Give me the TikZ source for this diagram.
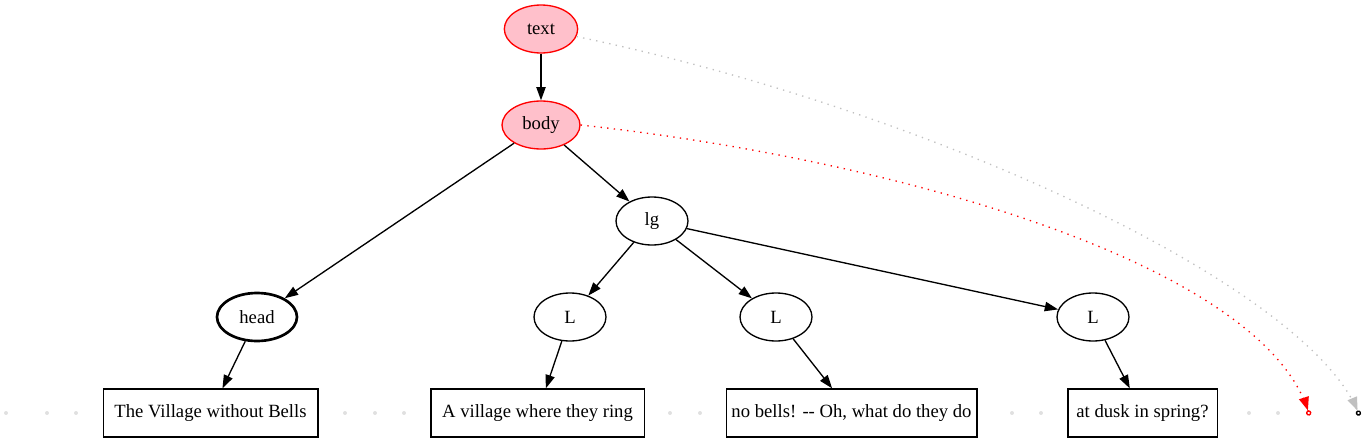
\documentclass[tikz,border=0pt]{standalone}
\usepackage{fontspec}
\setmainfont{Liberation Serif}
\usetikzlibrary{arrows.meta,shapes.geometric}
\definecolor{gvpink}{RGB}{255,192,203}
\definecolor{gvgray}{RGB}{192,192,192}
\definecolor{dotgray}{RGB}{224,224,224}
\begin{document}
\begin{tikzpicture}[x=0.75pt,y=-0.75pt,
  every node/.style={font=\fontsize{14pt}{16pt}\selectfont, inner sep=0pt},
  ell/.style={draw, ellipse, line width=1pt, minimum width=54pt, minimum height=36pt},
  hl/.style={ell, draw=red, fill=gvpink},
  box/.style={draw, rectangle, line width=1pt, minimum height=36pt},
  dotpt/.style={circle, fill=dotgray, minimum size=3pt, inner sep=0pt},
  edge/.style={line width=1pt, -{Triangle[length=10pt,width=7pt]}},
  reddot/.style={draw=red, line width=1pt, dash pattern=on 1pt off 4pt,
    -{Triangle[length=10pt,width=7.5pt,fill=red,sep=0pt] Circle[open,length=4pt,width=4pt]}},
  graydot/.style={draw=gvgray, line width=1pt, dash pattern=on 1pt off 4pt,
    -{Triangle[length=10pt,width=7.5pt,fill=gvgray,sep=0pt] Circle[open,length=4pt,width=4pt,color=black]}}
]
\useasboundingbox (0,0) rectangle (1365,443);

% nodes
\node[hl, minimum width=55pt] (text) at (541,29) {text};
\node[hl, minimum width=58.5pt] (body) at (541,125) {body};
\node[ell] (lg) at (652,221) {lg};
\node[ell, line width=2pt, minimum width=60pt] (head) at (257,317) {head};
\node[ell] (L1) at (570,317) {L};
\node[ell] (L2) at (776,317) {L};
\node[ell] (L3) at (1093,317) {L};
\node[box, minimum width=161pt] (b1) at (210.5,413) {The Village without Bells};
\node[box, minimum width=160pt] (b2) at (537.5,413) {A village where they ring};
\node[box, minimum width=188pt] (b3) at (851.5,413) {no bells! -{}- Oh, what do they do};
\node[box, minimum width=112pt] (b4) at (1142.5,413) {at dusk in spring?};

% small points
\node[dotpt] (p1) at (6,413) {};
\node[dotpt] (p2) at (47,413) {};
\node[dotpt] (p3) at (76,413) {};
\node[dotpt] (p4) at (345,413) {};
\node[dotpt] (p5) at (375,413) {};
\node[dotpt] (p6) at (404,413) {};
\node[dotpt] (p7) at (670,413) {};
\node[dotpt] (p8) at (700,413) {};
\node[dotpt] (p9) at (1012,413) {};
\node[dotpt] (p10) at (1041,413) {};
\node[dotpt] (p11) at (1249,413) {};
\node[dotpt] (p12) at (1278,413) {};

\coordinate (redend) at (1309.5,415.5);
\coordinate (grayend) at (1359.5,415.5);

% edges
\draw[edge] (text) -- (body);
\draw[edge] (body) -- (head);
\draw[edge] (body) -- (lg);
\draw[edge] (lg) -- (L1);
\draw[edge] (lg) -- (L2);
\draw[edge] (lg) -- (L3);
\draw[edge] (head) -- (b1);
\draw[edge] (L1) -- (b2);
\draw[edge] (L2) -- (b3);
\draw[edge] (L3) -- (b4);

% dotted curves
\draw[reddot] (body.east) .. controls (900,160) and (1262,265) .. (redend);
\draw[graydot] (text.-12) .. controls (930,110) and (1305,285) .. (grayend);
\end{tikzpicture}
\end{document}
